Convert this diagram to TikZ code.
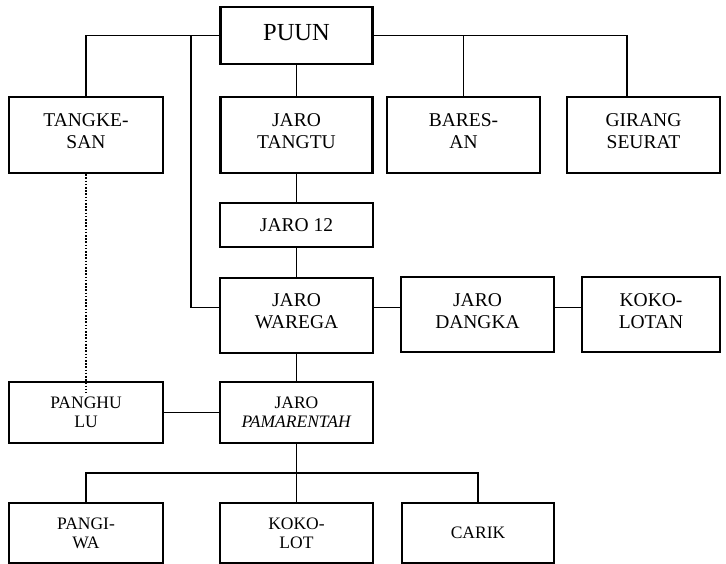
\documentclass[tikz,border=0pt]{standalone}
\usepackage{fontspec}
\setmainfont{Liberation Serif}
\begin{document}
\begin{tikzpicture}[x=1pt,y=-1pt,
  box/.style={draw, line width=2.6pt, align=center, inner sep=0pt, minimum width=153pt},
  big/.style={font=\fontsize{19.5}{22}\selectfont, text depth=8pt},
  small/.style={font=\fontsize{17.5}{19}\selectfont},
  link/.style={line width=1.8pt},
  dotlink/.style={line width=1.6pt, dash pattern=on 1.6pt off 1.6pt}]
\useasboundingbox (0,0) rectangle (726,564);
% top
\node[box, minimum width=152pt, minimum height=57pt, font=\fontsize{24.5}{28}\selectfont, text depth=6pt] (puun) at (296.5,35.5) {PUUN};
\node[box, big, minimum width=154pt, minimum height=76pt] (tangkesan) at (86,135) {TANGKE-\\SAN};
\node[box, big, minimum width=152pt, minimum height=76pt] (tangtu) at (296.5,135) {JARO\\TANGTU};
\node[box, big, minimum height=76pt] (baresan) at (463.5,135) {BARES-\\AN};
\node[box, big, minimum height=76pt] (girang) at (643.5,135) {GIRANG\\SEURAT};
% middle
\node[box, minimum height=44pt, font=\fontsize{19.5}{22}\selectfont] (jaro12) at (296.5,225) {JARO 12};
\node[box, big, minimum height=75pt] (warega) at (296.5,315.5) {JARO\\WAREGA};
\node[box, big, minimum height=75pt, text depth=6pt] (dangka) at (477.5,314.5) {JARO\\DANGKA};
\node[box, big, minimum width=138pt, minimum height=75pt, text depth=6pt] (kokolotan) at (651,314.5) {KOKO-\\LOTAN};
\node[box, small, minimum width=154pt, minimum height=61pt] (panghulu) at (86,412.5) {PANGHU\\LU};
\node[box, small, minimum height=61pt] (pamarentah) at (296.5,412.5) {JARO\\\textit{PAMARENTAH}};
% bottom
\node[box, small, minimum width=154pt, minimum height=60pt] (pangiwa) at (86,533) {PANGI-\\WA};
\node[box, small, minimum width=153pt, minimum height=60pt] (kokolot) at (296.5,533) {KOKO-\\LOT};
\node[box, small, minimum width=152pt, minimum height=60pt] (carik) at (478,533) {CARIK};
% coordinates
\coordinate (jleft) at (191,35.5);
\coordinate (girangtop) at (627,97);
\coordinate (bus) at (296.5,473);
% connectors
\draw[link] (puun.west) -| (tangkesan.north);
\draw[link] (puun.east) -| (baresan.north);
\draw[link] (puun.east) -| (girangtop);
\draw[link] (jleft) |- ([yshift=8pt]warega.west);
\draw[link] (puun.south) -- (tangtu.north);
\draw[link] (tangtu.south) -- (jaro12.north);
\draw[link] (jaro12.south) -- (warega.north);
\draw[link] (warega.south) -- (pamarentah.north);
\draw[link] ([yshift=8pt]warega.east) -- ([yshift=7pt]dangka.west);
\draw[link] ([yshift=7pt]dangka.east) -- ([yshift=7pt]kokolotan.west);
\draw[link] (panghulu.east) -- (pamarentah.west);
\draw[dotlink] (tangkesan.south) -- ([yshift=-12pt]panghulu.north);
\draw[link] (pamarentah.south) -- (kokolot.north);
\draw[link] (pangiwa.north) |- (bus) -| (carik.north);
\end{tikzpicture}
\end{document}
